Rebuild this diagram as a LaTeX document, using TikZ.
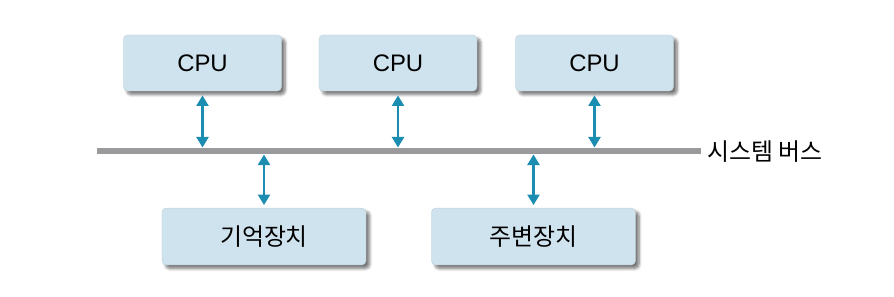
\documentclass[tikz,border=0pt]{standalone}
\usepackage{fontspec}
\setmainfont{Liberation Sans}
\newfontfamily\kr{Noto Sans CJK KR}
\usetikzlibrary{arrows.meta,shadows.blur}
\definecolor{boxfill}{HTML}{CFE3EE}
\definecolor{busgray}{HTML}{9A9A9C}
\definecolor{linkblue}{HTML}{1B8DB0}

\begin{document}
\begin{tikzpicture}[
  x=0.025cm, y=-0.025cm,
  unit/.style={rectangle,rounded corners=3pt,fill=boxfill,draw=boxfill!80!gray,
    line width=0.3pt,minimum width=3.95cm,minimum height=1.4cm,
    blur shadow={shadow xshift=2.5pt,shadow yshift=-2.5pt,shadow blur steps=6,shadow opacity=55},
    font=\fontsize{17}{19}\selectfont},
  link/.style={linkblue,line width=1.8pt,{Triangle[width=8.5pt,length=7.5pt]}-{Triangle[width=8.5pt,length=7.5pt]}}
]
  \useasboundingbox (0,0) rectangle (894,296);

  \node[unit] (cpuA) at (202.5, 63) {CPU};
  \node[unit] (cpuB) at (398, 63)   {CPU};
  \node[unit] (cpuC) at (594.5, 63) {CPU};
  \node[unit,minimum width=5.1cm,minimum height=1.42cm] (mem) at (264, 236.5) {\kr 기억장치};
  \node[unit,minimum width=5.1cm,minimum height=1.42cm] (io)  at (533.5, 236.5) {\kr 주변장치};

  % system bus
  \coordinate (busL) at (97, 151);
  \coordinate (busR) at (701, 151);
  \draw[busgray,line width=0.16cm] (busL) -- (busR);
  \node[anchor=west,inner sep=0pt,font=\kr\fontsize{17}{19}\selectfont] (bus) at (707, 152) {시스템 버스};

  \foreach \c in {cpuA,cpuB,cpuC}
    \draw[link] ([yshift=-3pt]\c.south) -- (\c.south |- 0,147.5);
  \foreach \d in {mem,io}
    \draw[link] (\d.north |- 0,154.5) -- ([yshift=2pt]\d.north);
\end{tikzpicture}
\end{document}
